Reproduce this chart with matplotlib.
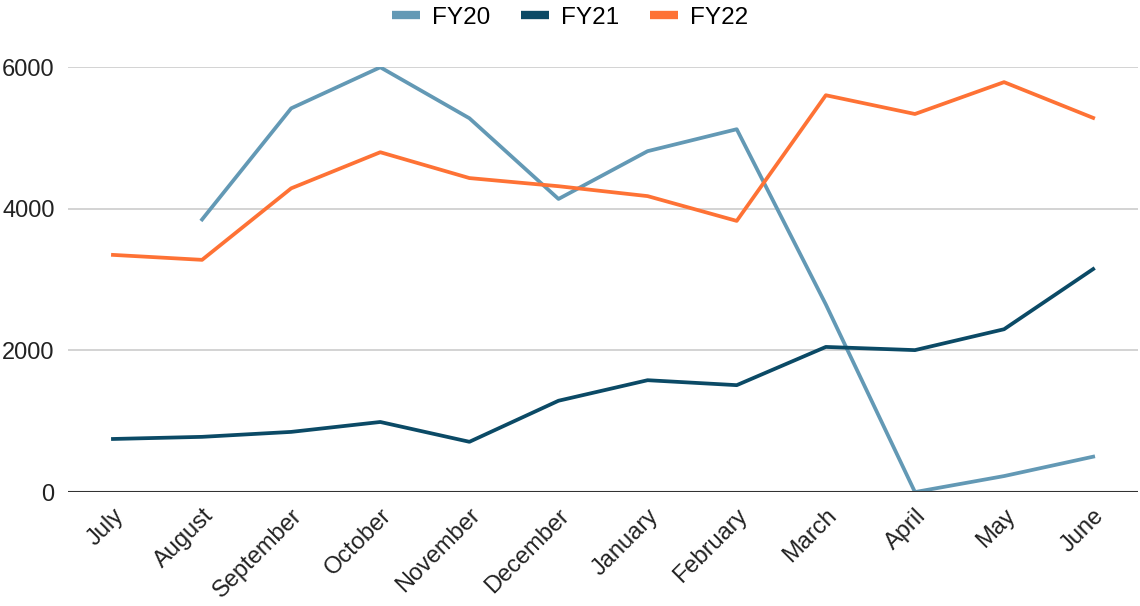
import matplotlib.pyplot as plt
import numpy as np

plt.rcParams['font.family'] = ['Liberation Sans', 'DejaVu Sans']

months = ['July', 'August', 'September', 'October', 'November', 'December',
          'January', 'February', 'March', 'April', 'May', 'June']

# FY20 has no value for July
fy20 = [np.nan, 3850, 5420, 6000, 5280, 4140, 4815, 5125, 2650, 0, 226, 500]
fy21 = [750, 780, 850, 990, 710, 1290, 1580, 1510, 2050, 2005, 2300, 3150]
fy22 = [3350, 3280, 4290, 4800, 4435, 4320, 4180, 3830, 5605, 5340, 5790, 5285]

fig = plt.figure(figsize=(11.4, 6.06), dpi=100)
ax = fig.add_axes([0.06, 0.188, 0.938, 0.701])

x = np.arange(len(months))
ax.plot(x, fy20, color='#6399b5', lw=2.7, label='FY20')
ax.plot(x, fy21, color='#0b4a66', lw=2.7, label='FY21')
ax.plot(x, fy22, color='#fe7235', lw=2.7, label='FY22')

ax.set_xlim(-0.5, len(months) - 0.5)
ax.set_ylim(0, 6000)
ax.set_yticks([0, 2000, 4000, 6000])
ax.grid(axis='y', color='#cccccc', lw=1.2)
ax.set_axisbelow(True)
ax.axhline(0, color='#333333', lw=1.5)

ax.set_xticks(x)
ax.set_xticklabels(months, rotation=45, ha='right', rotation_mode='anchor')
ax.tick_params(axis='both', length=0, labelsize=17, colors='#222222')
ax.tick_params(axis='x', pad=9)
ax.tick_params(axis='y', pad=10)
for s in ax.spines.values():
    s.set_visible(False)

leg = fig.legend(loc='upper center', bbox_to_anchor=(0.5, 1.025), ncol=3,
                 frameon=False, fontsize=17.5, handlelength=1.15,
                 columnspacing=1.25, handletextpad=0.5)
for h in leg.get_lines():
    h.set_linewidth(6)
    h.set_solid_capstyle('butt')

fig.savefig('out.png', dpi=100)
